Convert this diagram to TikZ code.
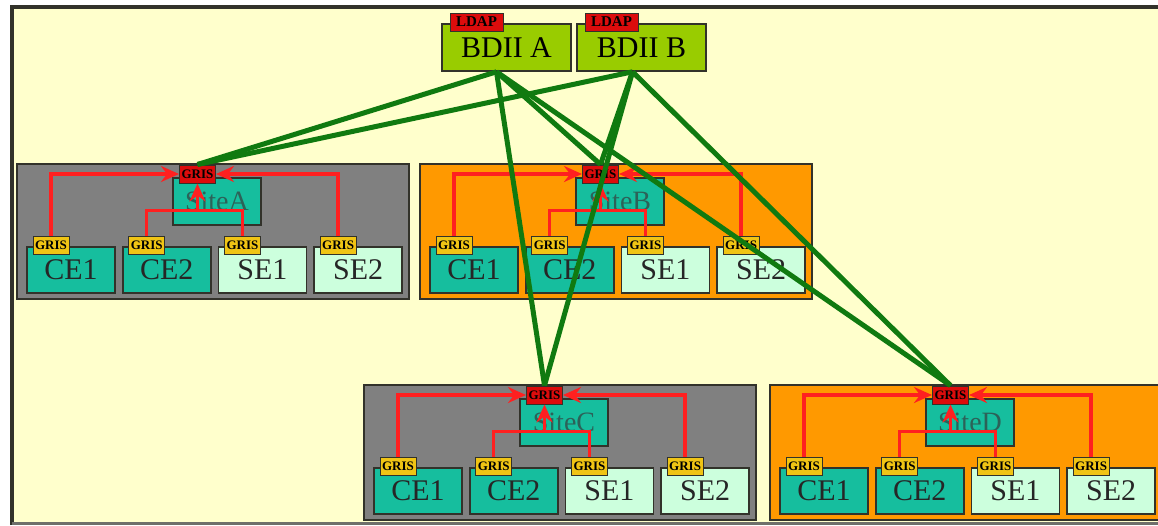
\documentclass[tikz,border=0pt]{standalone}
\usepackage{fontspec}
\setmainfont{Liberation Serif}
\usetikzlibrary{arrows.meta}
\definecolor{bgpale}{RGB}{255,255,204}
\definecolor{frame}{RGB}{50,50,42}
\definecolor{grpgrey}{RGB}{128,128,128}
\definecolor{grporange}{RGB}{255,153,0}
\definecolor{sitegreen}{RGB}{22,190,158}
\definecolor{sitetxt}{RGB}{44,98,88}
\definecolor{semint}{RGB}{204,255,221}
\definecolor{bdiilime}{RGB}{153,204,0}
\definecolor{tagred}{RGB}{220,12,12}
\definecolor{taggold}{RGB}{240,196,20}
\definecolor{linkgreen}{RGB}{16,122,16}
\definecolor{arrred}{RGB}{255,32,32}

\begin{document}
\begin{tikzpicture}[x=1pt,y=-1pt,
  box/.style={draw=frame,line width=1.6pt,inner sep=0pt,minimum width=88pt,minimum height=46pt,
    font=\fontsize{30}{30}\selectfont,text=black!85},
  grp/.style={draw=frame,line width=1.6pt,inner sep=0pt,minimum width=392pt,minimum height=135pt},
  site/.style={box,fill=sitegreen,text=sitetxt,minimum height=47pt,font=\fontsize{28}{28}\selectfont},
  bdii/.style={box,fill=bdiilime,text=black,minimum width=129pt,minimum height=47pt},
  tg/.style={draw=frame,line width=1pt,inner sep=0pt,minimum width=36pt,minimum height=18pt,
    font=\bfseries\fontsize{13}{13}\selectfont},
  ed/.style={linkgreen,line width=5pt},
  edr/.style={arrred,line width=3.5pt,-{Stealth[length=18pt,width=16pt,inset=6pt]}}]
\useasboundingbox (0,0) rectangle (1158,525);
% frame and background
\fill[bgpale] (12,7) rectangle (1158,523);
\draw[frame,line width=4pt] (12,525) -- (12,6.5) -- (1158,6.5);
\draw[frame!70,line width=3pt] (12,523.5) -- (1158,523.5);
% top level index servers
\node[bdii] (bA) at (506.5,47.5) {BDII A};
\node[bdii] (bB) at (641.5,47.5) {BDII B};
\node[tg,fill=tagred,minimum width=53pt,font=\bfseries\fontsize{15}{15}\selectfont] (lA) at (476.5,22) {LDAP};
\node[tg,fill=tagred,minimum width=53pt,font=\bfseries\fontsize{15}{15}\selectfont] (lB) at (611.5,22) {LDAP};
\coordinate (pA) at ([xshift=-10pt]bA.south);
\coordinate (pB) at ([xshift=-9pt]bB.south);
% sites
\foreach \g/\gx/\gy/\gc in {A/17/164/grpgrey,B/420/164/grporange,C/364/385/grpgrey,D/770/385/grporange}{
  \node[grp,fill=\gc] (g\g) at (\gx+196,\gy+67.5) {};
  \node[site] (s\g) at (\gx+200,\gy+37.5) {Site\g};
  \node[tg,fill=tagred] (t\g) at (\gx+180.5,\gy+10) {GRIS};
  \foreach \i/\lab/\fc in {1/CE1/sitegreen,2/CE2/sitegreen,3/SE1/semint,4/SE2/semint}{
    \node[box,fill=\fc] (\g\i) at ({\gx+54+95.7*(\i-1)},\gy+106) {\lab};
    \node[tg,fill=taggold] (\g\i t) at ({\gx+34+95.7*(\i-1)},\gy+81) {GRIS};
  }
  \coordinate (m\g) at ([yshift=-27pt]t\g.south);
  \draw[edr] (\g1t.north) |- (t\g.west);
  \draw[edr] (\g4t.north) |- (t\g.east);
  \draw[edr,-] (\g2t.north) |- (m\g) -| (\g3t.north);
  \draw[edr] (m\g) -- (t\g.south);
}
% links to the site servers
\foreach \s in {A,B,C,D}{
  \draw[ed] (pA) -- (t\s.north);
  \draw[ed] (pB) -- (t\s.north);
}
\end{tikzpicture}
\end{document}
